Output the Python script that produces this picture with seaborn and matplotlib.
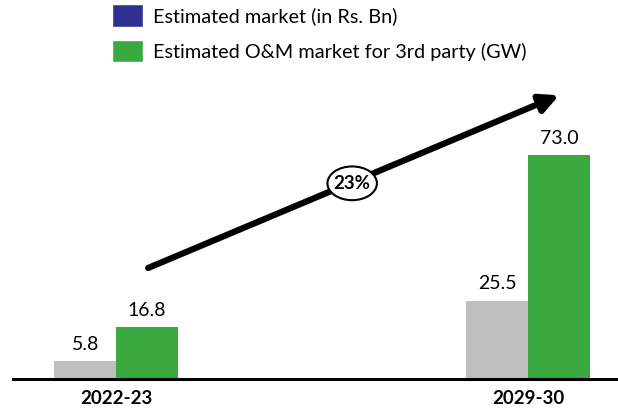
import pandas as pd
import matplotlib.pyplot as plt
import seaborn as sns
from matplotlib.patches import Patch, Ellipse

years = ["2022-23", "2029-30"]
market_bn = [5.8, 25.5]
om_market_gw = [16.8, 73.0]
series_names = ["Estimated market (in Rs. Bn)", "Estimated O&M market for 3rd party (GW)"]
cagr_label = "23%"

df = pd.DataFrame({
    "year": years * 2,
    "value": market_bn + om_market_gw,
    "series": [series_names[0]] * 2 + [series_names[1]] * 2,
})

sns.set_style("white")
plt.rcParams["font.family"] = ["Lato", "DejaVu Sans"]
plt.rcParams["text.color"] = "black"
plt.rcParams["xtick.color"] = "black"

fig = plt.figure(figsize=(6.18, 4.12), dpi=100)
ax = fig.add_axes([13 / 618, 1 - 379 / 412, 1 - 13 / 618, 319 / 412])

bar_colors = ["#BFBFBF", "#3AAA40"]
sns.barplot(data=df, x="year", y="value", hue="series", palette=bar_colors,
            width=0.3, saturation=1, linewidth=0, ax=ax, legend=False)

for container in ax.containers:
    ax.bar_label(container, fmt="%.1f", padding=6, fontsize=14, color="black")

ax.set_xlim(-0.25, 1.218)
ax.set_ylim(0, 104)
ax.set_xlabel("")
ax.set_ylabel("")
ax.set_yticks([])
for side in ["left", "right", "top"]:
    ax.spines[side].set_visible(False)
ax.spines["bottom"].set_linewidth(2.2)
ax.spines["bottom"].set_color("black")
ax.tick_params(axis="x", length=0, pad=8)
for lbl in ax.get_xticklabels():
    lbl.set_fontsize(13.5)
    lbl.set_fontweight("bold")

# growth arrow
ax.annotate("", xy=(1.075, 92.5), xytext=(0.078, 36.2),
            arrowprops=dict(arrowstyle="-|>,head_length=1.1,head_width=0.55",
                            lw=4.5, color="black", shrinkA=0, shrinkB=0),
            annotation_clip=False)
ell = Ellipse((0.573, 63.8), width=0.12, height=11, facecolor="white",
              edgecolor="black", lw=1.5, zorder=5, clip_on=False)
ax.add_patch(ell)
ax.text(0.573, 63.8, cagr_label, ha="center", va="center", fontsize=13.5,
        fontweight="bold", zorder=6)

handles = [Patch(facecolor="#2E3192"), Patch(facecolor="#3AAA40")]
fig.legend(handles, series_names, loc="upper left", bbox_to_anchor=(100 / 618, 1.02),
           frameon=False, fontsize=14.3, handlelength=1.55, handleheight=1.4,
           labelspacing=0.65, handletextpad=0.5, borderaxespad=0.2)

fig.savefig("out.png", dpi=100)
